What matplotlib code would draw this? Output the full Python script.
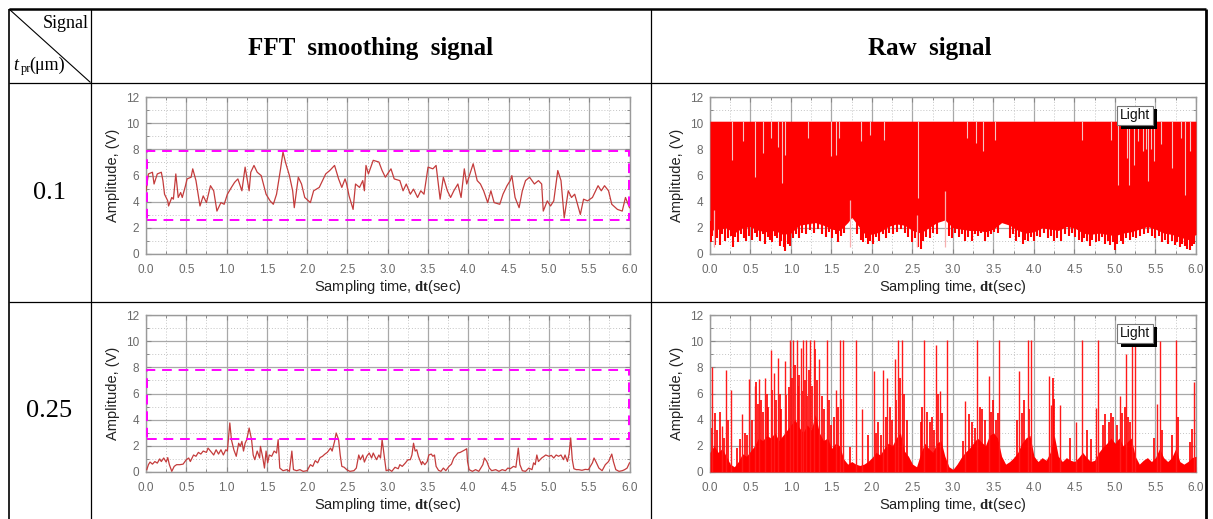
import matplotlib
matplotlib.use("Agg")
import matplotlib.pyplot as plt
from matplotlib.patches import Rectangle
from matplotlib.lines import Line2D
from matplotlib.ticker import MultipleLocator
import matplotlib.patheffects as pe

plt.rcParams['font.family'] = ['Liberation Sans', 'DejaVu Sans']
plt.rcParams['mathtext.fontset'] = 'custom'
plt.rcParams['mathtext.bf'] = 'Liberation Serif:bold'
plt.rcParams['mathtext.it'] = 'Liberation Serif:italic'
plt.rcParams['mathtext.rm'] = 'Liberation Serif'

# ---------------- data ----------------
col_titles = ["FFT  smoothing  signal", "Raw  signal"]
row_labels = ["0.1", "0.25"]
xticks = [0.0, 0.5, 1.0, 1.5, 2.0, 2.5, 3.0, 3.5, 4.0, 4.5, 5.0, 5.5, 6.0]
yticks = [0, 2, 4, 6, 8, 10, 12]
box_lo = [2.58, 2.55]
box_hi = [7.87, 7.82]

# FFT smoothing signal, t_pr = 0.1
fft1_t = [0.00, 0.03, 0.08, 0.10, 0.14, 0.19, 0.21, 0.23, 0.27, 0.28, 0.32, 0.34, 0.37, 0.40, 0.43,
          0.45, 0.49, 0.51, 0.56, 0.58, 0.62, 0.67, 0.71, 0.75, 0.80, 0.84, 0.88, 0.93, 0.97, 1.01,
          1.06, 1.10, 1.14, 1.19, 1.23, 1.28, 1.30, 1.34, 1.38, 1.43, 1.49, 1.54, 1.58, 1.62, 1.67,
          1.70, 1.73, 1.78, 1.82, 1.84, 1.89, 1.93, 1.97, 2.04, 2.08, 2.15, 2.19, 2.23, 2.28, 2.34,
          2.39, 2.43, 2.47, 2.49, 2.52, 2.57, 2.60, 2.65, 2.69, 2.71, 2.73, 2.76, 2.82, 2.89, 2.93,
          2.97, 3.04, 3.08, 3.15, 3.19, 3.23, 3.28, 3.32, 3.37, 3.41, 3.45, 3.50, 3.56, 3.60, 3.65,
          3.69, 3.74, 3.78, 3.82, 3.87, 3.91, 3.95, 3.98, 4.02, 4.06, 4.11, 4.15, 4.19, 4.24, 4.28,
          4.32, 4.39, 4.43, 4.48, 4.52, 4.54, 4.58, 4.63, 4.67, 4.71, 4.76, 4.82, 4.87, 4.91, 4.93,
          4.98, 5.02, 5.06, 5.11, 5.15, 5.19, 5.24, 5.28, 5.32, 5.39, 5.43, 5.48, 5.54, 5.61, 5.65,
          5.69, 5.74, 5.78, 5.85, 5.91, 5.95, 6.00]
fft1_v = [4.83, 6.12, 6.25, 5.35, 6.12, 6.25, 5.61, 4.57, 4.06, 3.67, 4.32, 4.19, 6.12, 4.32, 4.70,
          4.32, 5.22, 5.74, 5.87, 6.51, 5.61, 3.67, 4.44, 3.93, 5.22, 4.83, 3.28, 3.93, 3.80, 4.57,
          5.09, 5.48, 5.74, 4.83, 6.64, 4.83, 6.25, 6.77, 6.25, 5.99, 4.57, 4.06, 3.80, 4.57, 6.51,
          7.80, 7.03, 5.99, 4.83, 3.54, 5.87, 5.35, 4.32, 3.93, 4.83, 5.09, 5.61, 6.12, 6.38, 6.77,
          5.74, 5.09, 5.74, 5.35, 4.44, 3.41, 5.35, 5.09, 5.61, 4.83, 6.77, 6.12, 7.16, 7.03, 6.38,
          5.87, 6.51, 5.74, 5.61, 4.83, 5.35, 4.57, 4.96, 4.32, 4.83, 4.57, 6.64, 6.51, 6.77, 4.19,
          5.87, 4.83, 4.32, 4.83, 5.35, 4.32, 6.51, 5.35, 6.12, 6.90, 5.61, 5.35, 4.83, 3.93, 4.83,
          3.93, 3.80, 4.57, 5.22, 5.61, 5.99, 4.32, 3.54, 4.83, 5.61, 5.87, 5.35, 5.61, 5.35, 3.28,
          4.06, 3.67, 4.06, 6.38, 5.61, 2.76, 4.83, 4.32, 4.57, 3.02, 4.19, 4.06, 4.32, 5.22, 4.83,
          5.22, 4.83, 3.80, 3.41, 3.28, 4.32, 3.54]

# FFT smoothing signal, t_pr = 0.25
fft2_t = [0.01, 0.03, 0.05, 0.08, 0.11, 0.14, 0.17, 0.19, 0.22, 0.25, 0.27, 0.29, 0.32, 0.35, 0.38,
          0.42, 0.46, 0.50, 0.53, 0.55, 0.59, 0.62, 0.65, 0.68, 0.71, 0.75, 0.77, 0.80, 0.84, 0.87,
          0.90, 0.93, 0.96, 0.99, 1.01, 1.04, 1.06, 1.09, 1.12, 1.15, 1.17, 1.19, 1.21, 1.23, 1.25,
          1.28, 1.31, 1.33, 1.35, 1.38, 1.41, 1.42, 1.45, 1.47, 1.49, 1.51, 1.53, 1.56, 1.59, 1.62,
          1.64, 1.66, 1.70, 1.75, 1.78, 1.81, 1.83, 1.87, 1.91, 1.95, 2.00, 2.04, 2.07, 2.10, 2.13,
          2.16, 2.19, 2.22, 2.25, 2.29, 2.31, 2.34, 2.36, 2.39, 2.41, 2.43, 2.46, 2.49, 2.53, 2.58,
          2.61, 2.64, 2.66, 2.69, 2.71, 2.74, 2.77, 2.80, 2.82, 2.86, 2.89, 2.91, 2.93, 2.96, 2.98,
          3.02, 3.05, 3.09, 3.13, 3.15, 3.18, 3.22, 3.25, 3.28, 3.30, 3.32, 3.34, 3.36, 3.38, 3.42,
          3.43, 3.46, 3.49, 3.51, 3.54, 3.56, 3.58, 3.60, 3.63, 3.66, 3.69, 3.72, 3.76, 3.79, 3.82,
          3.85, 3.87, 3.90, 3.93, 3.96, 3.98, 3.99, 4.01, 4.05, 4.09, 4.13, 4.18, 4.20, 4.23, 4.26,
          4.29, 4.34, 4.38, 4.42, 4.46, 4.49, 4.52, 4.56, 4.59, 4.62, 4.64, 4.67, 4.71, 4.75, 4.79,
          4.81, 4.83, 4.85, 4.87, 4.91, 4.94, 4.96, 5.00, 5.03, 5.06, 5.09, 5.12, 5.15, 5.18, 5.20,
          5.23, 5.25, 5.27, 5.29, 5.31, 5.34, 5.37, 5.41, 5.45, 5.49, 5.54, 5.56, 5.59, 5.62, 5.66,
          5.70, 5.74, 5.78, 5.80, 5.83, 5.87, 5.91, 5.94, 5.97, 6.00]
fft2_v = [0.18, 0.56, 0.76, 0.60, 0.80, 0.68, 1.00, 0.80, 1.07, 0.76, 1.10, 0.56, 0.05, 0.43, 0.56,
          0.56, 0.60, 0.94, 1.07, 0.80, 1.30, 1.20, 1.50, 1.37, 1.60, 1.50, 1.83, 1.60, 1.30, 1.70,
          1.37, 1.70, 1.30, 1.70, 1.60, 3.75, 2.47, 1.70, 1.20, 2.20, 1.96, 2.34, 1.60, 2.20, 2.47,
          3.36, 2.47, 1.30, 0.94, 1.60, 1.07, 1.96, 1.07, 0.30, 1.60, 0.70, 1.30, 1.20, 1.60, 1.45,
          2.47, 0.30, 0.10, 0.18, 0.05, 1.60, 0.18, 0.10, 0.18, 0.05, 0.10, 0.56, 0.43, 0.87, 0.70,
          1.10, 1.20, 1.37, 1.50, 1.83, 1.60, 2.34, 2.98, 2.47, 1.30, 0.43, 0.36, 0.18, 0.05, 0.10,
          0.30, 1.30, 0.94, 1.30, 0.76, 1.20, 1.45, 1.07, 1.45, 0.94, 1.30, 1.07, 2.47, 1.07, 0.10,
          0.18, 0.05, 0.36, 0.25, 0.56, 0.43, 0.70, 0.94, 0.94, 1.30, 2.20, 1.60, 1.70, 1.20, 0.56,
          0.80, 0.56, 0.80, 1.30, 1.37, 1.20, 1.30, 0.43, 0.13, 0.05, 0.30, 0.10, 0.43, 0.60, 1.07,
          1.30, 1.45, 1.50, 1.60, 1.70, 1.78, 0.80, 0.18, 0.05, 0.18, 0.05, 0.56, 1.07, 0.80, 0.30,
          0.10, 0.18, 0.05, 0.18, 0.10, 0.30, 0.25, 0.43, 0.36, 1.83, 0.56, 0.10, 0.05, 0.30, 0.18,
          0.70, 0.56, 1.30, 0.80, 1.07, 1.20, 1.30, 1.20, 1.27, 1.07, 1.30, 1.20, 1.30, 0.94, 1.30,
          0.80, 1.37, 2.60, 0.94, 0.25, 0.18, 0.18, 0.13, 0.20, 0.18, 0.70, 1.07, 0.70, 0.30, 0.10,
          0.56, 0.80, 1.37, 0.80, 0.18, 0.05, 0.10, 0.18, 0.30, 0.70]

# Raw signal, t_pr = 0.1 : ceiling, solid body bottom, downward spikes, light dips from the top
raw1_top = 10.15
raw1_t = [0.00, 0.10, 0.20, 0.30, 0.40, 0.50, 0.60, 0.70, 0.80, 0.90, 1.00, 1.10, 1.20, 1.30, 1.40,
          1.50, 1.60, 1.70, 1.75, 1.80, 1.90, 2.00, 2.10, 2.20, 2.30, 2.40, 2.50, 2.60, 2.70, 2.80,
          2.90, 3.00, 3.10, 3.20, 3.30, 3.40, 3.50, 3.60, 3.70, 3.80, 3.90, 4.00, 4.10, 4.20, 4.30,
          4.40, 4.50, 4.60, 4.70, 4.80, 4.90, 5.00, 5.10, 5.20, 5.30, 5.40, 5.50, 5.60, 5.70, 5.80,
          5.90, 6.00]
raw1_low = [1.8, 1.9, 2.0, 1.6, 2.0, 2.1, 1.8, 1.7, 1.8, 1.5, 1.6, 2.2, 2.3, 2.4, 2.2,
            1.9, 1.8, 2.4, 2.8, 2.4, 1.6, 1.5, 1.7, 2.1, 2.3, 2.2, 1.8, 1.6, 2.0, 2.4,
            2.6, 2.0, 1.9, 1.8, 1.8, 1.7, 1.9, 2.4, 2.2, 1.8, 1.6, 1.7, 2.0, 1.9, 1.8,
            2.1, 2.0, 1.6, 1.5, 1.6, 1.5, 1.4, 1.6, 1.7, 1.9, 2.1, 1.9, 1.6, 1.5, 1.3,
            1.1, 1.5]
raw1_down_t = [0.01, 0.03, 0.06, 0.09, 0.12, 0.15, 0.18, 0.22, 0.26, 0.28, 0.31, 0.35, 0.38, 0.42,
               0.45, 0.48, 0.52, 0.55, 0.58, 0.62, 0.65, 0.68, 0.71, 0.74, 0.77, 0.80, 0.83, 0.86,
               0.88, 0.91, 0.93, 0.96, 0.99, 1.02, 1.06, 1.10, 1.14, 1.18, 1.23, 1.28, 1.33, 1.38,
               1.43, 1.47, 1.51, 1.55, 1.58, 1.62, 1.66, 1.82, 1.86, 1.89, 1.92, 1.95, 1.98, 2.01,
               2.05, 2.09, 2.13, 2.17, 2.21, 2.26, 2.31, 2.36, 2.41, 2.45, 2.49, 2.53, 2.57, 2.60,
               2.63, 2.67, 2.71, 2.75, 2.80, 2.95, 2.99, 3.03, 3.07, 3.11, 3.15, 3.19, 3.23, 3.27,
               3.31, 3.35, 3.39, 3.43, 3.47, 3.51, 3.55, 3.70, 3.74, 3.78, 3.82, 3.86, 3.89, 3.92,
               3.96, 4.00, 4.04, 4.08, 4.12, 4.17, 4.21, 4.25, 4.29, 4.33, 4.38, 4.43, 4.47, 4.51,
               4.55, 4.59, 4.62, 4.66, 4.69, 4.72, 4.76, 4.80, 4.84, 4.88, 4.91, 4.94, 4.97, 5.00,
               5.03, 5.07, 5.10, 5.14, 5.18, 5.22, 5.26, 5.31, 5.36, 5.41, 5.46, 5.50, 5.54, 5.58,
               5.62, 5.66, 5.70, 5.74, 5.77, 5.80, 5.83, 5.86, 5.89, 5.92, 5.95, 5.98]
raw1_down_v = [0.9, 1.4, 0.7, 1.2, 0.7, 1.5, 1.0, 1.2, 1.4, 0.5, 1.3, 0.9, 1.5, 1.2,
               1.0, 1.4, 1.1, 1.6, 1.3, 1.0, 1.5, 0.8, 1.3, 1.1, 0.9, 1.4, 1.2, 0.6,
               1.0, 0.5, 0.2, 0.8, 0.6, 1.2, 1.5, 1.2, 1.6, 1.5, 1.8, 1.6, 1.9, 1.5,
               1.3, 1.7, 1.2, 1.5, 0.9, 1.4, 1.6, 1.5, 1.1, 0.9, 1.2, 0.8, 1.0, 0.8,
               1.3, 1.0, 1.5, 1.2, 1.6, 1.5, 1.7, 1.9, 1.6, 1.3, 0.9, 1.2, 0.5, 0.4,
               1.0, 1.3, 1.2, 1.6, 1.5, 1.4, 1.2, 1.6, 1.3, 1.5, 1.0, 1.3, 1.0, 1.5,
               1.4, 1.6, 1.0, 1.3, 1.5, 1.7, 1.6, 1.2, 1.5, 1.0, 1.3, 0.8, 1.1, 1.0,
               1.3, 1.0, 1.4, 1.3, 1.6, 1.2, 1.4, 1.0, 1.2, 1.0, 1.5, 1.4, 1.6, 1.3,
               1.1, 0.9, 1.2, 1.0, 0.6, 1.1, 0.9, 1.0, 1.3, 0.8, 1.0, 0.7, 0.9, 0.3,
               0.8, 1.0, 0.8, 1.2, 1.1, 1.3, 1.2, 1.4, 1.5, 1.6, 1.4, 1.2, 1.4, 0.9,
               1.1, 0.8, 1.0, 0.7, 0.9, 0.5, 0.8, 0.6, 0.4, 0.3, 0.6, 0.8]
raw1_dip_t = [0.27, 0.41, 0.55, 0.66, 0.75, 0.84, 0.89, 0.93, 1.21, 1.50, 1.55, 1.59, 1.86, 1.98,
              2.15, 2.57, 3.17, 3.28, 3.37, 3.52, 4.59, 4.95, 5.04, 5.15, 5.17, 5.24, 5.28, 5.35,
              5.38, 5.41, 5.44, 5.48, 5.57, 5.70, 5.81, 5.86, 5.92]
raw1_dip_v = [7.2, 8.6, 5.9, 7.7, 8.9, 8.2, 5.4, 7.6, 8.9, 7.5, 7.6, 8.9, 8.6, 9.1,
              8.7, 4.3, 8.9, 8.5, 7.9, 8.7, 8.7, 8.7, 5.3, 7.3, 5.3, 6.8, 8.6, 7.9,
              8.0, 5.6, 8.0, 7.1, 8.4, 6.6, 8.9, 4.5, 7.9]
raw1_rise_t = [1.73, 2.90, 2.55, 0.05]
raw1_rise_v = [4.1, 4.8, 3.0, 3.4]

# Raw signal, t_pr = 0.25 : dense body envelope, medium spikes and tall spikes
raw2_t = [0.00, 0.05, 0.10, 0.15, 0.20, 0.25, 0.30, 0.35, 0.40, 0.45, 0.50, 0.55, 0.60, 0.65, 0.70,
          0.75, 0.80, 0.85, 0.90, 0.95, 1.00, 1.05, 1.10, 1.15, 1.20, 1.25, 1.30, 1.35, 1.40, 1.45,
          1.50, 1.55, 1.60, 1.65, 1.70, 1.75, 1.80, 1.85, 1.90, 1.95, 2.00, 2.05, 2.10, 2.15, 2.20,
          2.25, 2.30, 2.35, 2.40, 2.45, 2.50, 2.55, 2.60, 2.65, 2.70, 2.75, 2.80, 2.85, 2.90, 2.95,
          3.00, 3.05, 3.10, 3.15, 3.20, 3.25, 3.30, 3.35, 3.40, 3.45, 3.50, 3.55, 3.60, 3.65, 3.70,
          3.75, 3.80, 3.85, 3.90, 3.95, 4.00, 4.05, 4.10, 4.15, 4.20, 4.25, 4.30, 4.35, 4.40, 4.45,
          4.50, 4.55, 4.60, 4.65, 4.70, 4.75, 4.80, 4.85, 4.90, 4.95, 5.00, 5.05, 5.10, 5.15, 5.20,
          5.25, 5.30, 5.35, 5.40, 5.45, 5.50, 5.55, 5.60, 5.65, 5.70, 5.75, 5.80, 5.85, 5.90, 5.95,
          6.00]
raw2_body = [1.5, 2.0, 1.5, 1.8, 1.2, 0.6, 0.4, 0.8, 1.4, 1.2, 1.6, 2.0, 2.6, 2.4, 2.8,
             2.6, 3.0, 2.4, 2.8, 3.2, 3.6, 4.0, 3.4, 3.0, 3.6, 3.2, 4.4, 3.0, 2.4, 2.6,
             1.8, 2.2, 2.0, 1.0, 0.6, 0.8, 0.6, 0.5, 0.6, 0.8, 1.1, 1.5, 1.3, 1.8, 2.2,
             2.0, 2.6, 3.0, 1.6, 1.2, 0.6, 0.4, 1.4, 2.2, 1.8, 1.5, 2.2, 2.4, 1.2, 0.4,
             0.2, 0.6, 1.1, 1.5, 1.8, 2.2, 2.6, 2.3, 2.0, 2.8, 3.0, 2.6, 1.2, 0.6, 0.8,
             1.1, 1.5, 2.2, 2.6, 2.8, 1.2, 0.8, 1.1, 0.9, 1.5, 2.8, 1.2, 0.8, 1.1, 0.9,
             0.8, 1.1, 1.5, 1.1, 0.8, 0.9, 1.5, 1.9, 2.2, 2.6, 2.2, 2.6, 2.0, 2.3, 2.6,
             1.2, 0.6, 0.9, 1.1, 0.8, 1.1, 1.8, 1.1, 0.8, 1.1, 1.8, 0.8, 0.6, 0.8, 1.1,
             1.2]
raw2_mid_t = [0.03, 0.06, 0.09, 0.12, 0.17, 0.22, 0.33, 0.37, 0.43, 0.46, 0.52, 0.57, 0.59, 0.63,
              0.66, 0.70, 0.72, 0.77, 0.81, 0.86, 0.88, 0.94, 0.97, 1.01, 1.05, 1.09, 1.10, 1.14,
              1.17, 1.20, 1.22, 1.26, 1.30, 1.32, 1.38, 1.41, 1.47, 1.50, 1.53, 1.58, 1.62, 1.73,
              1.95, 2.05, 2.08, 2.11, 2.17, 2.22, 2.25, 2.30, 2.34, 2.39, 2.43, 2.60, 2.62, 2.68,
              2.71, 2.74, 2.77, 2.81, 2.87, 3.12, 3.20, 3.24, 3.27, 3.33, 3.36, 3.40, 3.47, 3.50,
              3.53, 3.55, 3.79, 3.85, 3.88, 3.94, 4.23, 4.25, 4.45, 4.66, 4.70, 4.85, 4.88, 4.92,
              4.95, 4.98, 5.02, 5.09, 5.12, 5.16, 5.19, 5.48, 5.58, 5.70, 5.78, 5.92, 5.95]
raw2_mid_v = [3.4, 4.5, 3.2, 4.6, 2.6, 4.0, 1.8, 2.5, 3.0, 2.8, 4.0, 6.9, 5.2, 5.5,
              4.6, 6.0, 5.0, 6.3, 5.5, 6.0, 4.8, 5.9, 6.5, 7.2, 8.2, 6.6, 7.4, 6.2,
              7.0, 5.8, 7.8, 6.6, 9.4, 7.0, 5.8, 4.8, 5.5, 3.6, 4.2, 5.0, 5.6, 1.9,
              2.8, 3.0, 3.8, 2.8, 4.2, 5.0, 4.0, 5.5, 7.2, 6.0, 4.0, 3.8, 5.0, 4.6,
              3.8, 4.2, 3.2, 6.0, 4.5, 2.4, 4.4, 3.8, 3.4, 5.0, 4.8, 4.0, 4.6, 5.5,
              4.0, 4.5, 4.0, 4.5, 5.5, 4.8, 7.2, 5.6, 2.6, 3.2, 2.5, 3.6, 4.4, 3.8,
              4.5, 4.2, 3.6, 4.5, 5.0, 4.2, 3.8, 2.6, 3.2, 2.8, 4.2, 2.3, 3.3]
raw2_spike_t = [0.02, 0.15, 0.20, 0.26, 0.40, 0.48, 0.55, 0.61, 0.68, 0.75, 0.79, 0.84, 0.92,
                0.99, 1.03, 1.07, 1.12, 1.15, 1.18, 1.24, 1.28, 1.35, 1.44, 1.55, 1.60, 1.64,
                1.80, 1.88, 2.02, 2.14, 2.19, 2.28, 2.32, 2.37, 2.64, 2.79, 2.84, 2.92, 3.15,
                3.30, 3.44, 3.57, 3.81, 3.92, 3.96, 4.19, 4.21, 4.32, 4.52, 4.59, 4.76, 4.79,
                5.06, 5.13, 5.21, 5.25, 5.52, 5.56, 5.75, 5.97]
raw2_spike_v = [8.0, 3.5, 7.8, 6.3, 4.4, 7.1, 6.6, 7.1, 7.2, 9.3, 7.6, 8.7, 8.5,
                10.1, 10.1, 10.1, 9.5, 10.1, 10.1, 10.1, 10.1, 8.6, 10.1, 6.3, 10.1, 10.1,
                10.1, 4.8, 7.7, 7.8, 7.2, 8.6, 10.1, 10.1, 10.1, 9.7, 6.2, 10.1, 5.4,
                10.1, 7.3, 10.1, 7.7, 10.1, 10.1, 7.3, 5.1, 5.1, 3.8, 10.1, 4.9, 10.1,
                5.8, 9.0, 10.1, 10.1, 5.2, 10.0, 10.1, 6.9]

# ---------------- figure ----------------
W, H = 1213, 519
fig = plt.figure(figsize=(W / 100, H / 100), dpi=100)
fig.patch.set_facecolor('white')

# overlay axes in pixel coordinates for the table frame
tab = fig.add_axes([0, 0, 1, 1])
tab.set_xlim(0, W)
tab.set_ylim(H, 0)
tab.axis('off')
lk = dict(color='black', solid_capstyle='butt')
tab.add_line(Line2D([8.5, 1206], [8.5, 8.5], lw=1.8, **lk))
tab.add_line(Line2D([8.5, 8.5], [8.5, H], lw=1.2, **lk))
tab.add_line(Line2D([1206, 1206], [8.5, H], lw=2.0, **lk))
tab.add_line(Line2D([90.5, 90.5], [8.5, H], lw=0.9, **lk))
tab.add_line(Line2D([650.5, 650.5], [8.5, H], lw=0.9, **lk))
tab.add_line(Line2D([8.5, 1206], [82.5, 82.5], lw=0.9, **lk))
tab.add_line(Line2D([8.5, 1206], [301.5, 301.5], lw=0.9, **lk))
tab.add_line(Line2D([9, 90.5], [9, 82.5], lw=0.8, **lk))

serif = ['Liberation Serif', 'DejaVu Serif']
tab.text(371, 48, col_titles[0], ha='center', va='center', fontsize=18,
         fontweight='bold', family=serif)
tab.text(930, 48, col_titles[1], ha='center', va='center', fontsize=18,
         fontweight='bold', family=serif)
tab.text(49, 193, row_labels[0], ha='center', va='center', fontsize=19, family=serif)
tab.text(49, 411, row_labels[1], ha='center', va='center', fontsize=19, family=serif)
tab.text(89, 24, "Signal", ha='right', va='center', fontsize=13, family=serif)
tab.text(13, 65, r"$t$", ha='left', va='center', fontsize=13, family=serif)
tab.text(20.5, 69, "pr", ha='left', va='center', fontsize=9, family=serif)
tab.text(29.5, 65, "(\u03bcm)", ha='left', va='center', fontsize=13, family=serif)


def px_axes(l, r, t, b):
    return [l / W, 1 - b / H, (r - l) / W, (b - t) / H]


def style(ax):
    ax.set_xlim(0, 6)
    ax.set_ylim(0, 12)
    ax.set_xticks(xticks)
    ax.set_xticklabels([f"{v:.1f}" for v in xticks])
    ax.set_yticks(yticks)
    ax.set_yticklabels([str(v) for v in yticks])
    ax.xaxis.set_minor_locator(MultipleLocator(0.25))
    ax.yaxis.set_minor_locator(MultipleLocator(1))
    ax.grid(which='major', color='#a8a8a8', lw=0.9, ls='-')
    ax.grid(which='minor', color='#c4c4c4', lw=0.7, ls=(0, (1, 2)))
    ax.set_axisbelow(True)
    ax.tick_params(which='both', direction='in', top=True, right=True,
                   colors='#888888', labelcolor='#6a6a6a', labelsize=8.5)
    ax.tick_params(axis='x', which='major', pad=7)
    ax.tick_params(axis='y', which='major', pad=5)
    ax.tick_params(which='major', length=3.5, width=0.8)
    ax.tick_params(which='minor', length=2.5, width=0.7)
    for s in ax.spines.values():
        s.set_color('#9a9a9a')
        s.set_linewidth(1.0)
    ax.set_ylabel("Amplitude, (V)", fontsize=10.5, color='#222222', labelpad=4)
    ax.set_xlabel(r"Sampling time, $\mathbf{dt}$(sec)", fontsize=10.5, color='#222222', labelpad=2)


def light_box(ax):
    t = ax.text(5.25, 10.6, "Light", ha='center', va='center', fontsize=10, color='#111111',
                bbox=dict(boxstyle='square,pad=0.2', fc='white', ec='#777777', lw=0.8), zorder=7)
    t.get_bbox_patch().set_path_effects([
        pe.SimplePatchShadow(offset=(2.5, -2.5), shadow_rgbFace='black', alpha=1.0),
        pe.Normal()])


fft_sets = [(fft1_t, fft1_v), (fft2_t, fft2_v)]
tops = [(97, 254), (315, 472)]
for i in range(2):
    t, b = tops[i]
    ax = fig.add_axes(px_axes(146, 629.5, t, b))
    style(ax)
    ax.plot(fft_sets[i][0], fft_sets[i][1], color='#c43c3c', lw=0.9, zorder=4)
    ax.add_patch(Rectangle((0.01, box_lo[i]), 5.98, box_hi[i] - box_lo[i], fill=False,
                           ec='#ff00ff', lw=1.4, ls=(0, (5, 3.5)), zorder=5, clip_on=False))

# raw 0.1
t, b = tops[0]
ax = fig.add_axes(px_axes(710, 1196, t, b))
style(ax)
ax.fill_between(raw1_t, raw1_low, raw1_top, color='#ff0000', lw=0, zorder=3)
ax.vlines(raw1_down_t, raw1_down_v, 2.5, color='#ff0000', lw=1.5, zorder=3)
ax.vlines(raw1_rise_t, 0.5, raw1_rise_v, color='#f7b0b0', lw=0.9, zorder=3.5)
ax.vlines(raw1_dip_t, raw1_dip_v, raw1_top, color='#f5c4c4', lw=0.8, zorder=3.5)
light_box(ax)

# raw 0.25
t, b = tops[1]
ax = fig.add_axes(px_axes(710, 1196, t, b))
style(ax)
ax.fill_between(raw2_t, 0, raw2_body, color='#ff0000', lw=0, zorder=3)
ax.vlines(raw2_mid_t, 0, raw2_mid_v, color='#ff0000', lw=1.2, zorder=3.5)
ax.vlines(raw2_spike_t, 0, raw2_spike_v, color='#ff1a1a', lw=1.0, zorder=3.5)
light_box(ax)

fig.savefig("out.png", dpi=100, facecolor='white')
